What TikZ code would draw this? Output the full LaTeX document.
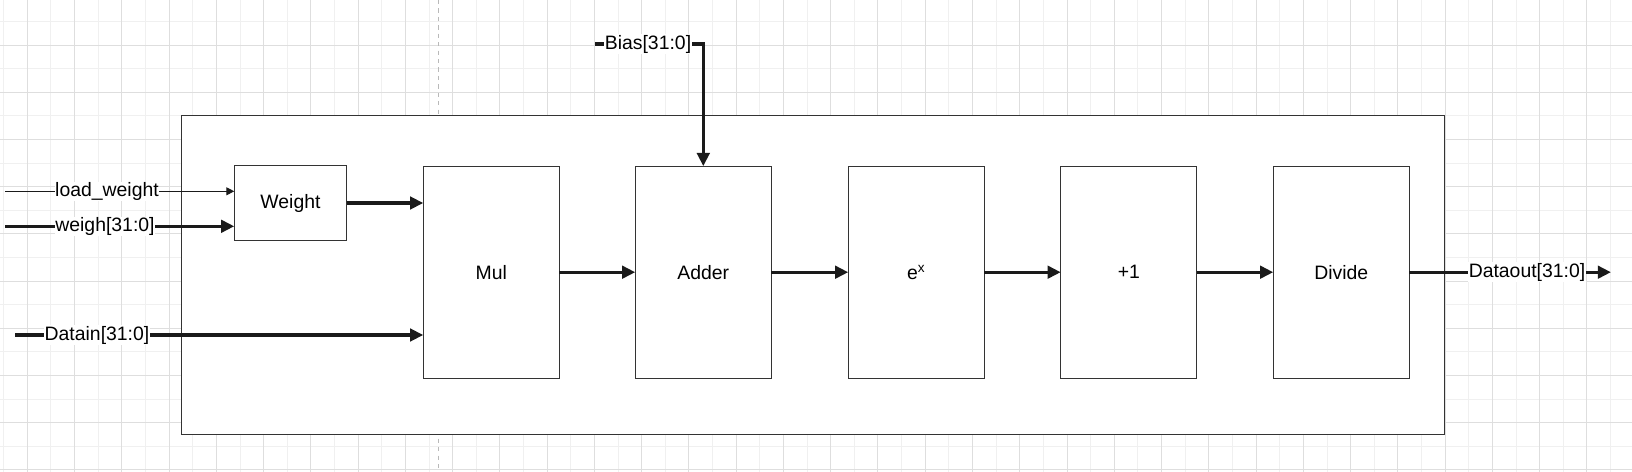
\documentclass[tikz,border=0pt]{standalone}
\usepackage{fontspec}
\setmainfont{Liberation Sans}
\usetikzlibrary{arrows.meta}

\definecolor{gridminor}{HTML}{F0F0F0}
\definecolor{gridmajor}{HTML}{DEDEDE}
\definecolor{boxline}{HTML}{333333}
\definecolor{wire}{HTML}{1A1A1A}

\begin{document}
\begin{tikzpicture}[x=0.025cm,y=-0.025cm,
  every node/.style={font=\fontsize{13.8}{16}\selectfont},
  block/.style={draw=boxline,line width=0.7pt,fill=white,inner sep=0pt,outer sep=0pt,minimum width=3.4cm,minimum height=5.3cm},
  bus/.style={draw=wire,line width=2.4pt,-{Triangle[length=3.3mm,width=3.1mm]}},
  ctrl/.style={draw=wire,line width=0.7pt,-{Triangle[length=2mm,width=2mm]}},
  pin/.style={fill=white,inner sep=0.5pt}]

\useasboundingbox (0,0) rectangle (1632,472);
\fill[white] (0,0) rectangle (1632,472);
\foreach \k in {0,...,34}
  \draw[gridminor,line width=0.7pt] ({3.7+47.26*\k},0) -- ++(0,472);
\foreach \k in {0,...,9}
  \draw[gridminor,line width=0.7pt] (0,{21.4+47.2*\k}) -- ++(1632,0);
\foreach \k in {0,...,33}
  \draw[gridmajor,line width=0.7pt] ({27.3+47.26*\k},0) -- ++(0,472);
\foreach \k in {0,...,9}
  \draw[gridmajor,line width=0.7pt] (0,{45+47.2*\k}) -- ++(1632,0);
\draw[gray!55,dashed,line width=0.7pt] (438.7,0) -- (438.7,472);

\node[draw=boxline,line width=0.7pt,fill=white,inner sep=0pt,outer sep=0pt,minimum width=31.575cm,minimum height=7.95cm] (core) at (812.8,275) {};

\node[block,minimum width=2.81cm,minimum height=1.85cm] (weight) at (290.5,203) {Weight};
\node[block] (mul) at (491.3,272.2) {Mul};
\node[block] (adder) at (703.3,272.2) {Adder};
\node[block] (exp) at (916.3,272.2) {e\textsuperscript{x}};
\node[block] (plusone) at (1128.8,272.2) {+1};
\node[block] (divide) at (1341.3,272.2) {Divide};

\coordinate (lw) at (5,191.3);
\coordinate (wi) at (5,226.3);
\coordinate (di) at (15,335);
\coordinate (bi) at (595,44);
\coordinate (do) at (1611,272.2);

\draw[ctrl] (lw) -- (lw -| weight.west);
\draw[bus] (wi) -- (wi -| weight.west);
\draw[bus] (weight.east) -- (weight.east -| mul.west);
\draw[bus] (di) -- (di -| mul.west);
\draw[bus] (bi) -| (adder.north);
\draw[bus] (mul) -- (adder);
\draw[bus] (adder) -- (exp);
\draw[bus] (exp) -- (plusone);
\draw[bus] (plusone) -- (divide);
\draw[bus] (divide.east) -- (do);

\node[pin] (lwlabel) at (107,191.3) {load\_weight};
\node[pin] (wilabel) at (105,226.3) {weigh[31:0]};
\node[pin] (dilabel) at (97,335) {Datain[31:0]};
\node[pin] (bilabel) at (648,44) {Bias[31:0]};
\node[pin] (dolabel) at (1527,272.2) {Dataout[31:0]};

\end{tikzpicture}
\end{document}
